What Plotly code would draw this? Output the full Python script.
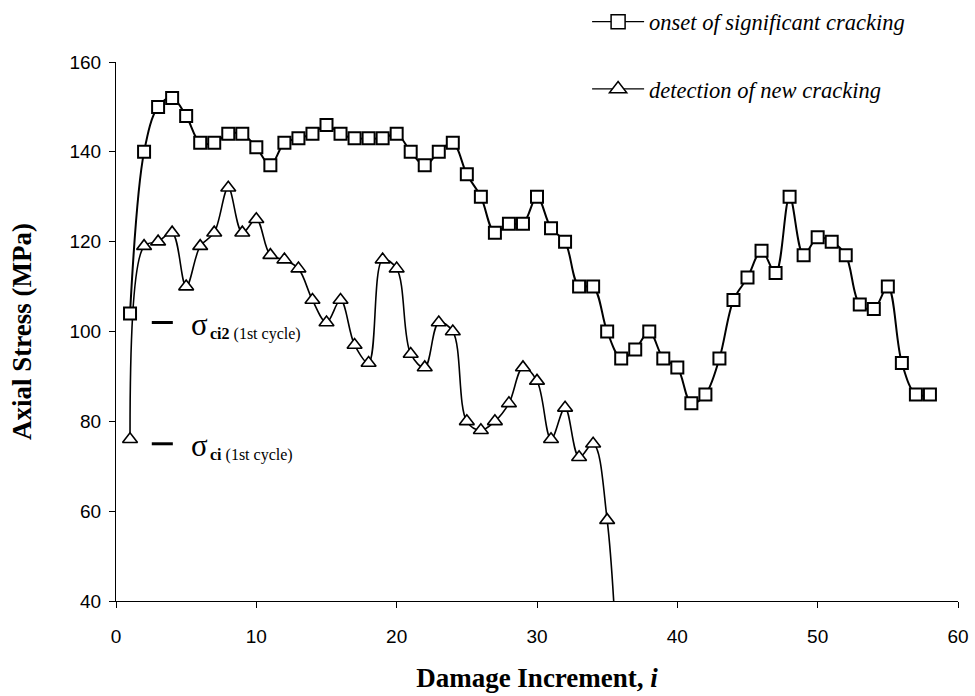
import plotly.graph_objects as go

# Damage increment index for each series
increment_onset = list(range(1, 59))
increment_detect = list(range(1, 37))

# Axial stress (MPa) at onset of significant cracking
stress_onset = [104, 140, 150, 152, 148, 142, 142, 144, 144, 141,
                137, 142, 143, 144, 146, 144, 143, 143, 143, 144,
                140, 137, 140, 142, 135, 130, 122, 124, 124, 130,
                123, 120, 110, 110, 100, 94, 96, 100, 94, 92,
                84, 86, 94, 107, 112, 118, 113, 130, 117, 121,
                120, 117, 106, 105, 110, 93, 86, 86]

# Axial stress (MPa) at detection of new cracking (last increment falls below the axis)
stress_detect = [76, 119, 120, 122, 110, 119, 122, 132, 122, 125,
                 117, 116, 114, 107, 102, 107, 97, 93, 116, 114,
                 95, 92, 102, 100, 80, 78, 80, 84, 92, 89,
                 76, 83, 72, 75, 58, 5]

# First-cycle crack thresholds marked at the left of the plot
sigma_ci2_first = 102
sigma_ci_first = 75

series_names = ["onset of significant cracking", "detection of new cracking"]

x_ticks = [0, 10, 20, 30, 40, 50, 60]
y_ticks = [40, 60, 80, 100, 120, 140, 160]

SERIF = "Liberation Serif"
SANS = "Liberation Sans"

fig = go.Figure()

fig.add_trace(go.Scatter(
    x=increment_detect, y=stress_detect, mode="lines+markers",
    line=dict(color="black", width=1.6, shape="spline", smoothing=1.0),
    marker=dict(symbol="triangle-up", size=13, color="white",
                line=dict(color="black", width=1.6)),
    showlegend=False,
))
fig.add_trace(go.Scatter(
    x=increment_onset, y=stress_onset, mode="lines+markers",
    line=dict(color="black", width=2, shape="spline", smoothing=1.0),
    marker=dict(symbol="square", size=12, color="white",
                line=dict(color="black", width=2)),
    showlegend=False,
))

# Legend entries with slightly larger symbols
fig.add_trace(go.Scatter(
    x=[None], y=[None], mode="lines+markers", name=series_names[0],
    legendgroup="a",
    line=dict(color="black", width=1.2),
    marker=dict(symbol="square", size=14, color="white",
                line=dict(color="black", width=1.5)),
))
fig.add_trace(go.Scatter(
    x=[None], y=[None], mode="lines+markers", name=series_names[1],
    legendgroup="b",
    line=dict(color="black", width=1.2),
    marker=dict(symbol="triangle-up", size=15, color="white",
                line=dict(color="black", width=1.5)),
))

# Short dash markers for the first-cycle thresholds
for val in (sigma_ci2_first, sigma_ci_first):
    fig.add_shape(type="line", xref="x", yref="y",
                  x0=2.55, x1=4.05, y0=val, y1=val,
                  line=dict(color="black", width=3))

# Threshold labels: large sigma plus a small subscript
label_specs = [
    (sigma_ci2_first, "<b>ci2</b> (1st cycle)"),
    (sigma_ci_first, "<b>ci</b> (1st cycle)"),
]
for val, sub in label_specs:
    fig.add_annotation(x=5.2, y=val, xref="x", yref="y", text="σ",
                       showarrow=False, xanchor="left", yanchor="middle",
                       yshift=-2, font=dict(family=SERIF, size=31, color="black"))
    fig.add_annotation(x=6.55, y=val, xref="x", yref="y", text=sub,
                       showarrow=False, xanchor="left", yanchor="middle",
                       yshift=-11, font=dict(family=SERIF, size=16, color="black"))

fig.update_layout(
    width=975, height=696,
    margin=dict(l=116, r=17, t=62, b=95, autoexpand=False),
    paper_bgcolor="white", plot_bgcolor="white",
    showlegend=True,
    legend=dict(
        x=0.5595, y=1.114, xanchor="left", yanchor="top",
        traceorder="grouped", tracegroupgap=35,
        font=dict(family=SERIF, size=22.5, color="black", style="italic"),
        bgcolor="rgba(0,0,0,0)", itemwidth=52,
    ),
)

fig.update_xaxes(
    range=[0, 60], tickvals=x_ticks, ticktext=[str(v) for v in x_ticks],
    showgrid=False, zeroline=False, showline=True, linecolor="black", linewidth=1,
    ticks="outside", ticklen=6, tickcolor="black", tickwidth=1,
    ticklabelstandoff=12,
    tickfont=dict(family=SANS, size=19, color="black"),
    title=dict(text="<b>Damage Increment, <i>i</i></b>", standoff=22,
               font=dict(family=SERIF, size=27, color="black")),
)
fig.update_yaxes(
    range=[40, 160], tickvals=y_ticks, ticktext=[str(v) for v in y_ticks],
    showgrid=False, zeroline=False, showline=True, linecolor="black", linewidth=1,
    ticks="outside", ticklen=6, tickcolor="black", tickwidth=1,
    ticklabelstandoff=4,
    tickfont=dict(family=SANS, size=19, color="black"),
    title=dict(text="<b>Axial Stress (MPa)</b>", standoff=30,
               font=dict(family=SERIF, size=27, color="black")),
)

fig.write_html("out.html")
